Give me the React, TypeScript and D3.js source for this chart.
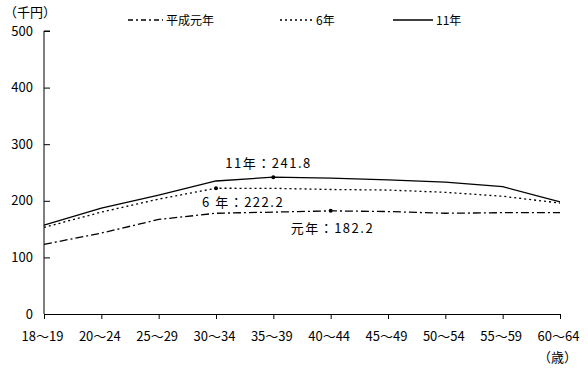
import React, { useRef, useEffect } from 'react';
import * as d3 from 'd3';

const ages = ['18～19', '20～24', '25～29', '30～34', '35～39', '40～44', '45～49', '50～54', '55～59', '60～64'];
const h1Values = [123, 143, 167, 178, 180, 182.2, 181, 178, 179, 179];
const h6Values = [153, 180, 203, 222.2, 222, 220, 219, 215, 208, 196];
const h11Values = [157, 187, 210, 235, 241.8, 240, 237, 233, 225, 198];
const yTicks = [0, 100, 200, 300, 400, 500];

const seriesNames = ['平成元年', '6年', '11年'];
const dashes = ['8,3,2,3', '2,3', null];

// highlighted points: series index, category index, label
const notes = [
  { s: 2, i: 4, label: '11年：241.8', dx: -48, dy: -9 },
  { s: 1, i: 3, label: '6 年：222.2', dx: -14, dy: 19 },
  { s: 0, i: 5, label: '元年：182.2', dx: -40, dy: 22 },
];

const font = '"Noto Sans CJK JP", sans-serif';

const App = () => {
  const svgRef = useRef(null);

  useEffect(() => {
    const svg = d3.select(svgRef.current);
    svg.selectAll('*').remove();

    const margin = { top: 31, left: 44, right: 28, bottom: 61 };
    const width = 588;
    const height = 375;

    const x = d3.scalePoint().domain(ages).range([margin.left, width - margin.right]);
    const y = d3.scaleLinear().domain([0, 500]).range([height - margin.bottom, margin.top]);

    const all = [h1Values, h6Values, h11Values];

    // y axis
    const yAxis = svg.append('g')
      .attr('transform', `translate(${margin.left},0)`)
      .call(d3.axisRight(y).tickValues(yTicks).tickSize(6).tickFormat(d3.format('d')));
    yAxis.select('.domain').attr('d', `M6,${y(500)}H0V${y(0)}`).attr('stroke', '#000');
    yAxis.selectAll('.tick line').attr('stroke', '#000');
    yAxis.selectAll('.tick text')
      .attr('x', -11)
      .attr('text-anchor', 'end')
      .attr('font-size', 13)
      .attr('font-family', font)
      .attr('fill', '#000');

    // x axis
    const xAxis = svg.append('g')
      .attr('transform', `translate(0,${y(0)})`)
      .call(d3.axisBottom(x).tickSize(5).tickSizeOuter(0));
    xAxis.select('.domain').attr('stroke', '#000');
    xAxis.selectAll('.tick line').attr('stroke', '#000');
    xAxis.selectAll('.tick text')
      .attr('y', 18)
      .attr('x', -2)
      .attr('font-size', 13)
      .attr('font-family', font)
      .attr('fill', '#000');

    // lines
    const line = d3.line<number>()
      .x((d, i) => x(ages[i]))
      .y(d => y(d));

    all.forEach((vals, s) => {
      svg.append('path')
        .datum(vals)
        .attr('d', line)
        .attr('fill', 'none')
        .attr('stroke', '#000')
        .attr('stroke-width', 1.3)
        .attr('stroke-dasharray', dashes[s]);
    });

    // notes
    notes.forEach(n => {
      const px = x(ages[n.i]);
      const py = y(all[n.s][n.i]);
      svg.append('circle').attr('cx', px).attr('cy', py).attr('r', 2).attr('fill', '#000');
      svg.append('text')
        .attr('x', px + n.dx)
        .attr('y', py + n.dy)
        .attr('font-size', 13)
        .attr('letter-spacing', 1.5)
        .attr('font-family', font)
        .text(n.label);
    });

    // legend
    const legendX = [128, 280, 393];
    const legendW = [35, 33, 40];
    seriesNames.forEach((name, s) => {
      svg.append('line')
        .attr('x1', legendX[s]).attr('x2', legendX[s] + legendW[s])
        .attr('y1', 20).attr('y2', 20)
        .attr('stroke', '#000')
        .attr('stroke-width', 1.3)
        .attr('stroke-dasharray', s === 0 ? '5,3,2,3' : dashes[s]);
      svg.append('text')
        .attr('x', legendX[s] + legendW[s] + 3)
        .attr('y', 25)
        .attr('font-size', 12)
        .attr('font-family', font)
        .text(name);
    });

    // units
    svg.append('text').attr('x', 4).attr('y', 17)
      .attr('font-size', 13).attr('font-family', font).text('（千円）');
    svg.append('text').attr('x', 538).attr('y', 362)
      .attr('font-size', 13).attr('font-family', font).text('（歳）');
  }, []);

  return (
    <svg ref={svgRef} width={588} height={375}
      style={{ position: 'absolute', left: 0, top: 0, background: '#fff' }} />
  );
};

export default App;
